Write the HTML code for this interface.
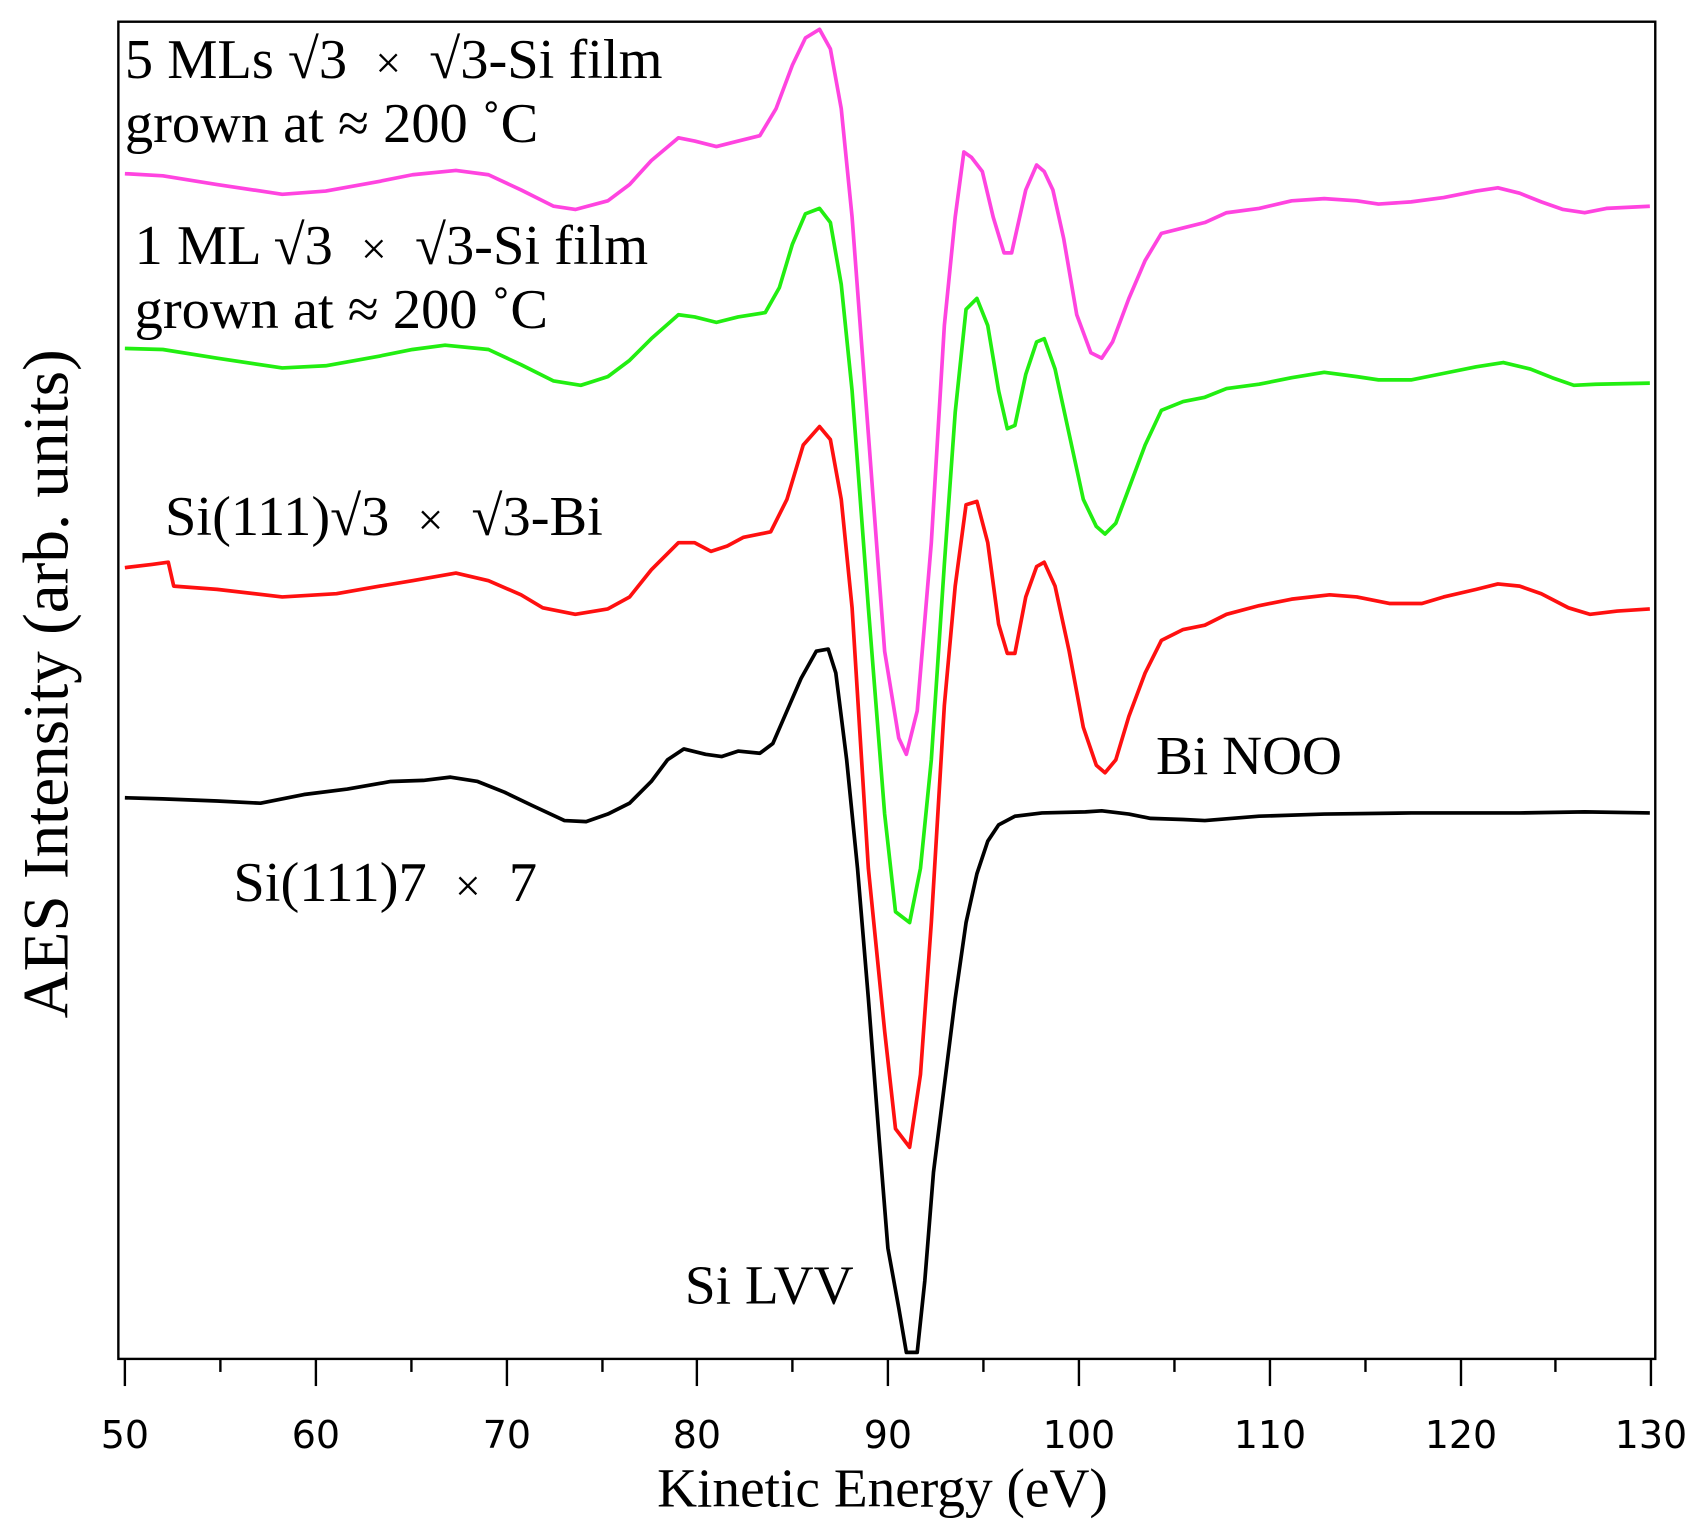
<!DOCTYPE html>
<html><head><meta charset="utf-8"><style>html,body{margin:0;padding:0;background:#fff}svg{display:block}</style></head>
<body>
<svg width="1702" height="1538" viewBox="0 0 1568 1417" xmlns="http://www.w3.org/2000/svg">
<rect x="0" y="0" width="1568" height="1417" fill="#fff"/>
<g fill="none" stroke-width="3.4" stroke-linejoin="round">
<polyline stroke="#ff44e0" points="115,160 150,162 200,170 260,179 300,176 350,167 380,161 420,157 450,161 480,175 510,190 530,193 560,185 580,170 600,148 625,127 640,130 660,135 680,130 700,125 715,100 730,60 742,35 755,27 765,45 775,100 785,200 800,400 815,600 828,680 835,695 845,655 858,500 870,300 880,200 888,140 895,145 905,158 915,200 925,233 932,233 945,175 955,152 962,158 970,175 980,220 992,290 1005,325 1015,330 1025,315 1040,275 1055,240 1070,215 1090,210 1110,205 1130,196 1160,192 1190,185 1220,183 1250,185 1270,188 1300,186 1330,182 1360,176 1380,173 1400,178 1420,186 1440,193 1460,196 1480,192 1520,190"/>
<polyline stroke="#22ee11" points="115,321 150,322 200,330 260,339 300,337 350,328 380,322 410,318 450,322 480,336 510,351 535,355 560,347 580,332 600,312 625,290 640,292 660,297 680,292 705,288 718,265 730,225 742,197 755,192 765,205 775,262 785,360 800,560 815,750 825,840 838,850 848,800 858,700 870,520 880,380 890,285 900,275 910,300 920,360 928,395 935,392 945,345 955,315 962,312 972,340 985,400 998,460 1010,485 1018,492 1028,482 1040,450 1055,410 1070,378 1090,370 1110,366 1130,358 1160,354 1190,348 1220,343 1250,347 1270,350 1300,350 1330,344 1360,338 1385,334 1410,340 1430,348 1450,355 1470,354 1520,353"/>
<polyline stroke="#ff1010" points="115,523 140,520 155,518 160,540 200,543 260,550 310,547 350,540 380,535 420,528 450,535 480,548 500,560 530,566 560,561 580,550 600,525 625,500 640,500 655,508 670,503 685,495 710,490 725,460 740,410 755,393 765,405 775,460 785,560 800,800 815,950 825,1040 838,1057 848,990 858,850 870,650 880,540 890,465 900,462 910,500 920,575 928,602 935,602 945,550 955,522 962,518 972,540 985,600 998,670 1010,705 1018,712 1028,700 1040,660 1055,620 1070,590 1090,580 1110,576 1130,566 1160,558 1190,552 1225,548 1250,550 1280,556 1310,556 1330,550 1360,543 1380,538 1400,540 1420,547 1445,560 1465,566 1490,563 1520,561"/>
<polyline stroke="#000" points="115,735 150,736 200,738 240,740 280,732 320,727 360,720 390,719 415,716 440,720 465,730 490,742 520,756 540,757 560,750 580,740 600,720 615,700 630,690 650,695 665,697 680,692 700,694 712,685 725,655 738,625 752,600 763,598 770,620 780,700 790,800 800,920 810,1050 818,1150 828,1205 835,1246 845,1246 852,1180 860,1080 870,1000 880,920 890,850 900,805 910,775 920,760 935,752 960,749 1000,748 1015,747 1040,750 1060,754 1090,755 1110,756 1160,752 1220,750 1300,749 1400,749 1460,748 1520,749"/>
</g>
<rect x="109" y="20" width="1416" height="1232" fill="none" stroke="#000" stroke-width="2.2"/>
<g stroke="#000" stroke-width="2.2">
<line x1="115" y1="1252" x2="115" y2="1277"/><line x1="203" y1="1252" x2="203" y2="1264"/>
<line x1="291" y1="1252" x2="291" y2="1277"/><line x1="379" y1="1252" x2="379" y2="1264"/>
<line x1="467" y1="1252" x2="467" y2="1277"/><line x1="555" y1="1252" x2="555" y2="1264"/>
<line x1="642" y1="1252" x2="642" y2="1277"/><line x1="730" y1="1252" x2="730" y2="1264"/>
<line x1="818" y1="1252" x2="818" y2="1277"/><line x1="906" y1="1252" x2="906" y2="1264"/>
<line x1="994" y1="1252" x2="994" y2="1277"/><line x1="1082" y1="1252" x2="1082" y2="1264"/>
<line x1="1170" y1="1252" x2="1170" y2="1277"/><line x1="1258" y1="1252" x2="1258" y2="1264"/>
<line x1="1346" y1="1252" x2="1346" y2="1277"/><line x1="1433" y1="1252" x2="1433" y2="1264"/>
<line x1="1521" y1="1252" x2="1521" y2="1277"/>
</g>
<g font-family="'DejaVu Sans', sans-serif" font-size="35" text-anchor="middle" fill="#000">
<text x="115" y="1334">50</text><text x="291" y="1334">60</text><text x="467" y="1334">70</text>
<text x="642" y="1334">80</text><text x="818" y="1334">90</text><text x="994" y="1334">100</text>
<text x="1170" y="1334">110</text><text x="1346" y="1334">120</text><text x="1521" y="1334">130</text>
</g>
<g font-family="'Liberation Serif', serif" font-size="52" fill="#000">
<text x="813" y="1388" text-anchor="middle" font-size="51">Kinetic Energy (eV)</text>
<text transform="translate(62,630) rotate(-90)" text-anchor="middle" font-size="60">AES Intensity (arb. units)</text>
<text x="115" y="72" xml:space="preserve">5 MLs √3  <tspan font-size="42">×</tspan>  √3-Si film</text>
<text x="115" y="131">grown at ≈ 200 ˚C</text>
<text x="124" y="243" xml:space="preserve">1 ML √3  <tspan font-size="42">×</tspan>  √3-Si film</text>
<text x="124" y="302">grown at ≈ 200 ˚C</text>
<text x="152" y="493" xml:space="preserve">Si(111)√3  <tspan font-size="42">×</tspan>  √3-Bi</text>
<text x="1065" y="713" font-size="51">Bi NOO</text>
<text x="215" y="830" xml:space="preserve">Si(111)7  <tspan font-size="42">×</tspan>  7</text>
<text x="631" y="1201" font-size="51">Si LVV</text>
</g>
</svg>
</body></html>
